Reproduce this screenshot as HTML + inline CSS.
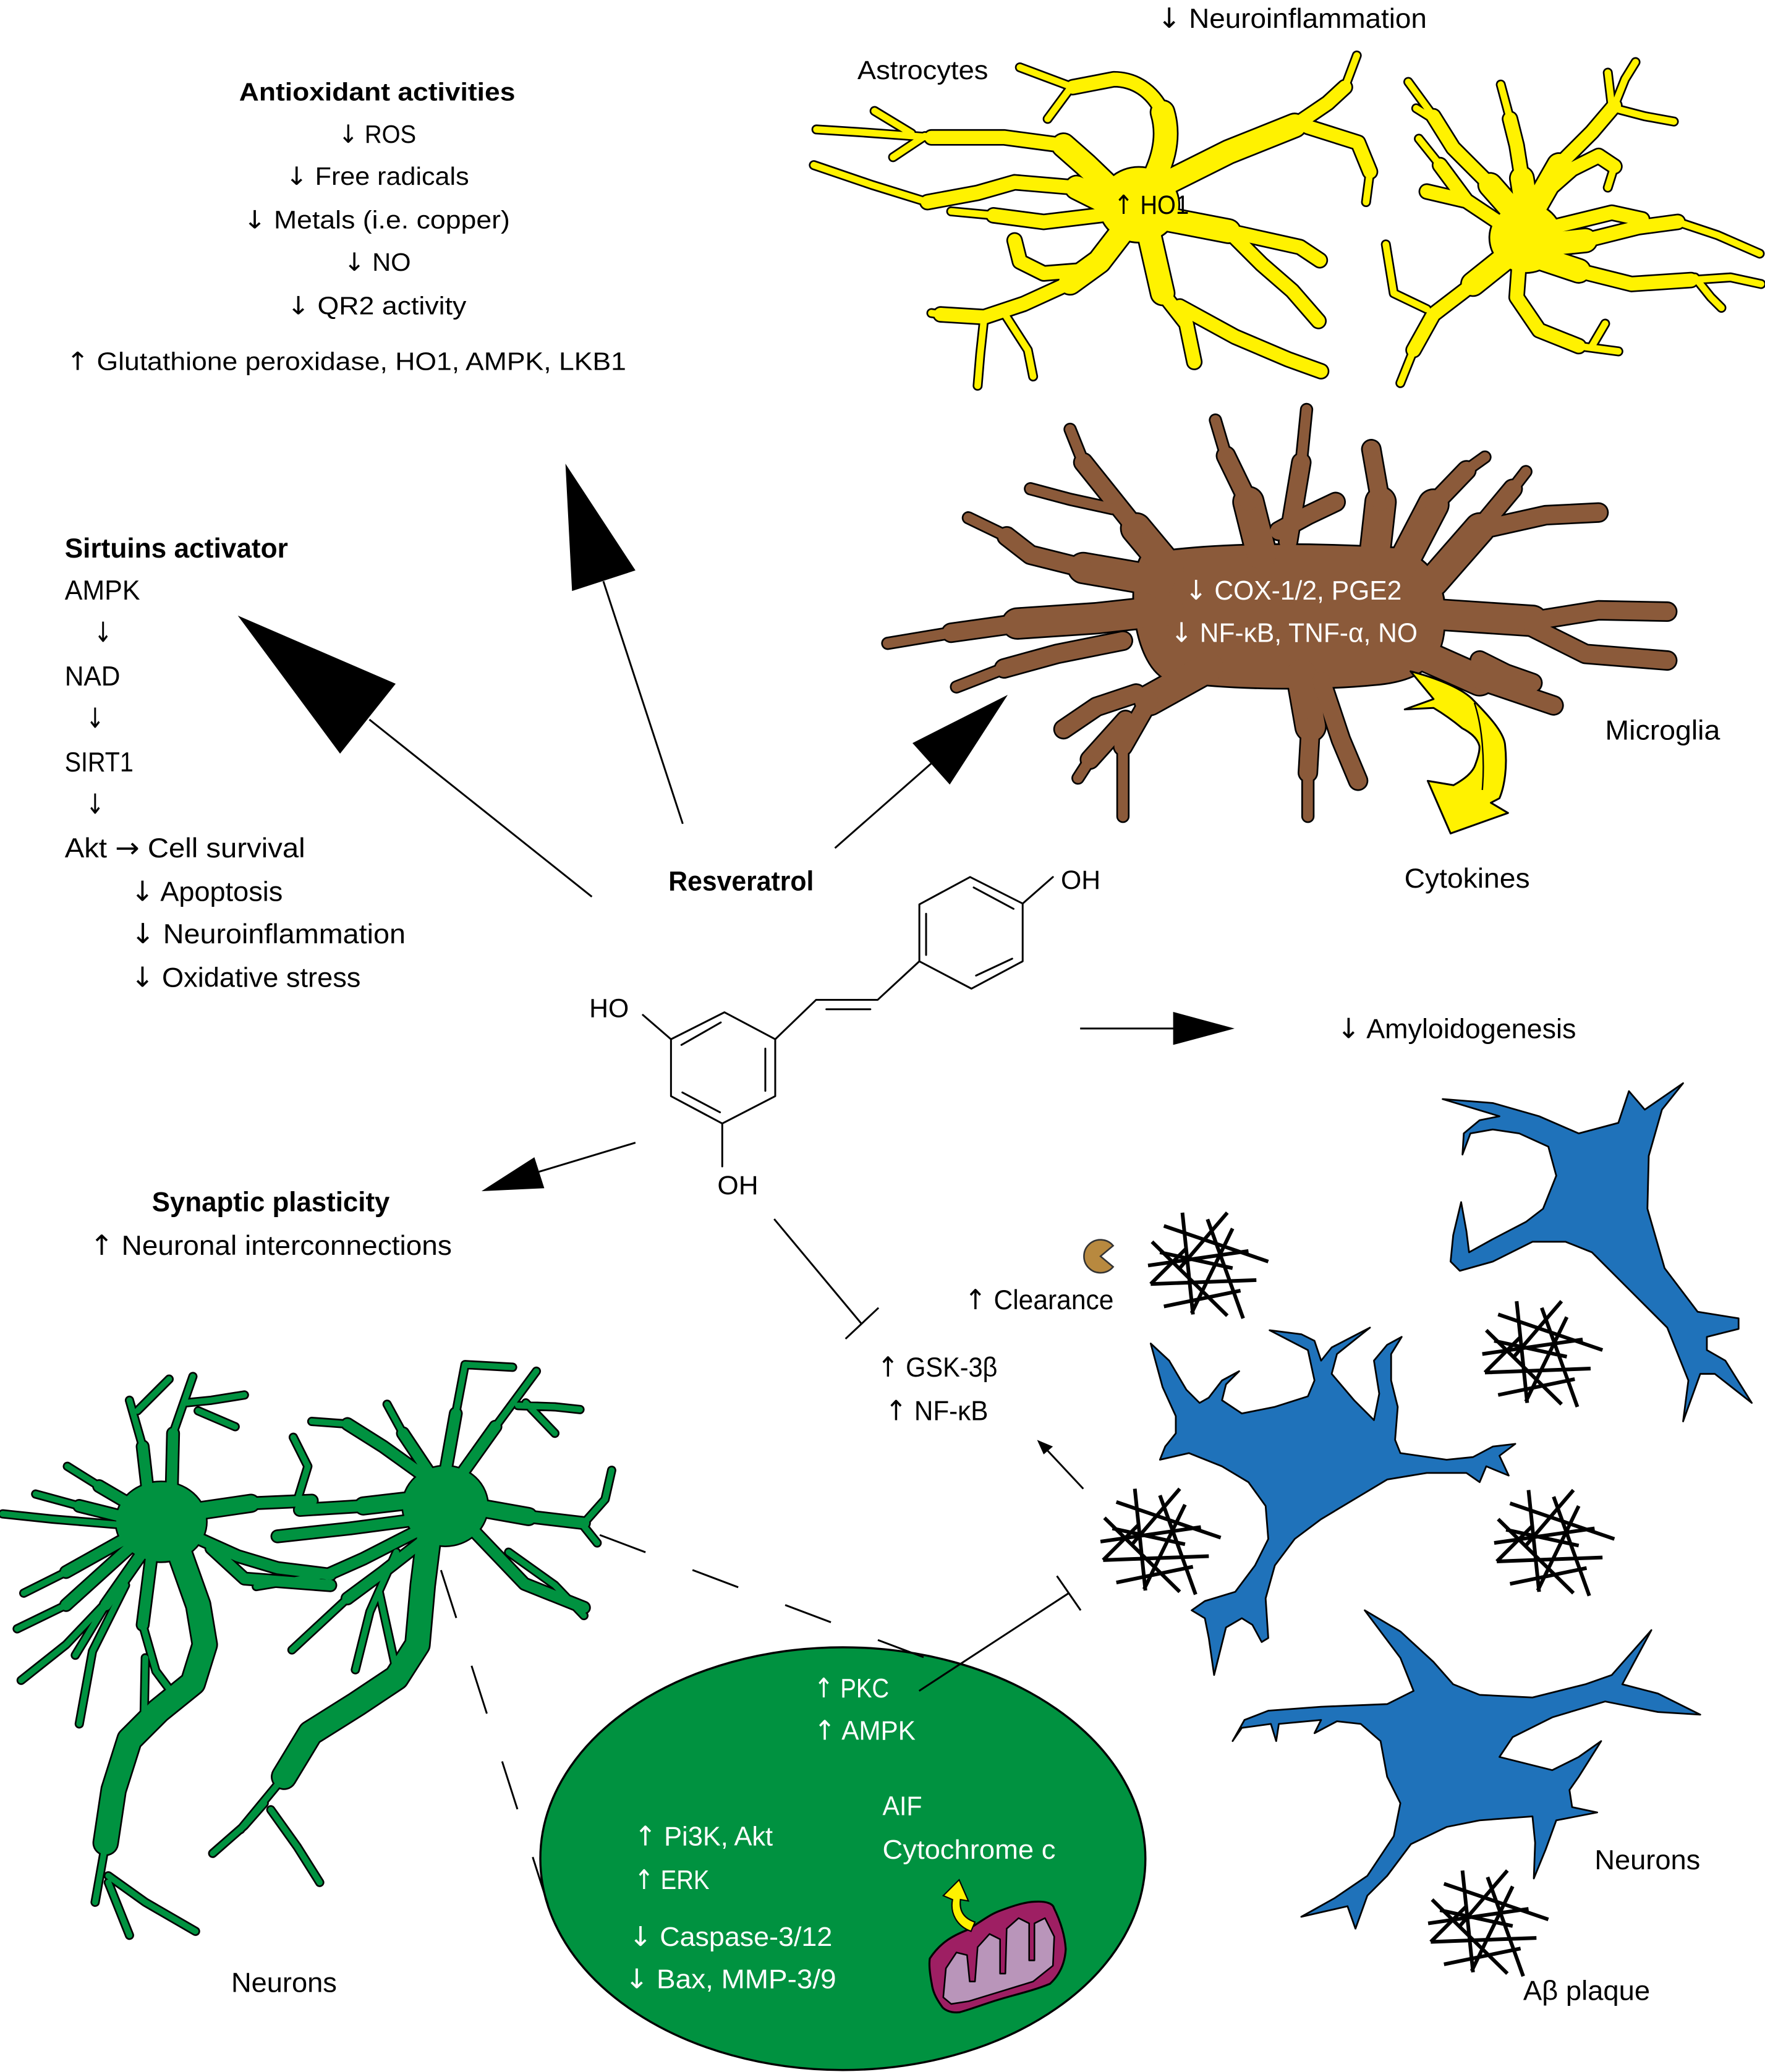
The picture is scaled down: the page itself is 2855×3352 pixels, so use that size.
<!DOCTYPE html>
<html><head><meta charset="utf-8"><style>
html,body{margin:0;padding:0;background:#fff;}
svg{display:block;}
text{font-family:"Liberation Sans","DejaVu Sans",sans-serif;}
.ar{font-family:"DejaVu Sans",sans-serif;}
</style></head><body>
<svg xmlns="http://www.w3.org/2000/svg" xmlns:xlink="http://www.w3.org/1999/xlink" width="2855" height="3352" viewBox="0 0 1336 1568.5" preserveAspectRatio="none">
<defs>
<!-- Astrocyte 1 -->
<g id="a1T"><path d="M868,145 C880,125 886,105 880,85 M880,140 L930,115 L980,95 M848,150 L822,125 L805,110 M845,157 L815,142 M852,172 L832,198 L810,214 M870,178 L880,222 M878,165 L930,175"/></g>
<g id="a1M"><path d="M880,85 C872,68 858,60 843,60 L812,66 M980,95 L1005,78 L1018,66 M990,96 L1028,108 L1037,130 M805,110 L760,104 L705,104 M815,142 L768,138 L740,146 L702,153 M840,162 L790,168 L752,163 M810,214 L775,230 L745,240 L712,238 M815,205 L790,207 L772,198 L768,182 M880,222 L898,245 L904,274 M893,232 L935,255 L975,272 L1000,281 M930,175 L984,187 L999,197 M935,180 L955,200 L978,220 L998,243"/></g>
<g id="a1S"><path d="M812,66 L772,51 M810,67 L793,90 M1018,66 L1027,42 M1037,130 L1034,153 M705,104 L650,100 L618,98 M700,103 L676,119 M690,101 L662,84 M702,153 L660,140 L616,125 M752,163 L720,160 M745,240 L742,268 L740,292 M760,237 L778,265 L782,285 M712,238 L705,237"/></g>
<!-- Astrocyte 2 -->
<g id="a2T"><path d="M1150,165 L1128,140 M1160,160 L1180,125 M1170,185 L1200,182 M1165,195 L1195,205 M1140,195 L1115,215 M1156,160 L1152,135"/></g>
<g id="a2M"><path d="M1128,140 L1100,112 L1085,88 M1152,135 L1148,110 L1143,90 M1180,125 L1205,100 L1222,80 M1165,150 L1190,128 L1210,118 L1222,126 M1140,172 L1110,152 L1080,145 M1175,172 L1220,161 L1243,166 M1200,182 L1240,172 L1270,168 M1195,205 L1235,215 L1280,212 M1150,198 L1148,225 L1165,250 L1195,262 M1115,215 L1085,238 L1070,265 M1110,152 L1090,125"/></g>
<g id="a2S"><path d="M1085,88 L1066,62 M1088,92 L1072,82 M1143,90 L1136,64 M1222,80 L1230,60 L1238,47 M1222,82 L1245,88 L1267,92 M1220,80 L1217,55 M1222,126 L1217,142 M1090,125 L1074,105 M1270,168 L1300,178 L1332,192 M1280,212 L1310,210 L1333,215 M1283,210 L1295,225 L1303,233 M1195,262 L1225,266 M1205,262 L1215,245 M1070,265 L1060,290 M1080,234 L1055,222 L1049,185"/></g>
<!-- Microglia -->
<g id="mgT"><path d="M885,462 L830,468 L770,472 M885,430 L860,400 M955,420 L945,380 M1040,425 L1045,380 M1060,430 L1085,382 M1085,440 L1120,400 M1085,465 L1160,470 M1075,495 L1120,515 M985,510 L992,550 M915,505 L870,530 M878,440 L820,430"/></g>
<g id="mgM"><path d="M770,472 L720,479 M850,485 L800,495 L760,506 M860,400 L840,375 L820,350 M820,430 L780,420 L762,406 M945,380 L928,345 M968,402 L990,390 L1011,380 M975,410 L985,350 M1045,380 L1038,340 M1085,382 L1110,356 M1120,400 L1145,370 M1125,400 L1170,390 L1210,388 M1160,470 L1210,462 L1262,463 M1160,475 L1200,495 L1262,500 M1120,515 L1176,534 M1120,500 L1140,510 L1160,517 M992,550 L990,585 M1000,515 L1015,560 L1028,591 M870,530 L850,565 M852,545 L825,575 M860,525 L830,535 L805,552"/></g>
<g id="mgS"><path d="M720,479 L672,487 M760,506 L724,520 M820,350 L810,325 M842,385 L810,378 L780,370 M762,406 L733,392 M928,345 L920,318 M985,350 L989,310 M1110,356 L1124,346 M1145,370 L1155,357 M990,585 L990,618 M850,565 L850,618 M825,575 L816,589"/></g>
<!-- Green neurons -->
<g id="nA"><path d="M134,1170 L150,1215 L155,1245 L146,1274 L120,1295 L98,1317 L86,1355 L80,1395 M325,1160 L320,1200 L316,1245 L300,1270 L270,1290 L235,1312 L215,1345"/></g>
<g id="nT"><path d="M142,1145 L190,1138 M355,1140 L400,1148 M318,1135 L275,1140"/></g>
<g id="nM"><path d="M112,1130 L108,1095 M130,1128 L131,1085 M190,1138 L236,1136 M140,1160 L180,1178 L210,1187 L250,1192 M160,1172 L185,1195 L250,1200 M104,1142 L75,1125 M100,1150 L60,1140 M100,1162 L50,1190 M102,1168 L50,1215 M108,1175 L80,1215 M115,1175 L108,1230 M337,1115 L345,1070 M350,1115 L375,1080 M400,1148 L442,1153 M355,1155 L397,1199 L442,1217 M325,1115 L305,1085 M322,1118 L290,1095 L263,1078 M275,1140 L227,1143 M318,1150 L265,1157 L210,1163 M318,1158 L275,1180 L248,1192 M322,1165 L290,1190 L263,1210"/></g>
<g id="nS"><path d="M108,1095 L98,1060 M104,1068 L128,1044 M131,1085 L146,1042 M140,1062 L160,1060 L185,1056 M150,1068 L178,1080 M225,1136 L233,1110 L222,1088 M75,1125 L51,1110 M60,1140 L27,1131 M100,1155 L40,1150 L2,1146 M50,1190 L18,1206 M50,1215 L13,1233 M80,1215 L57,1253 M95,1200 L70,1250 L60,1305 M88,1205 L50,1245 L16,1272 M108,1230 L118,1265 L136,1289 M110,1255 L109,1305 M80,1395 L72,1440 M82,1420 L110,1440 L148,1462 M82,1425 L98,1465 M345,1070 L352,1033 L388,1035 M375,1080 L406,1038 M392,1064 L420,1065 L439,1067 M398,1062 L420,1085 M442,1153 L458,1135 L463,1113 M440,1153 L452,1168 M385,1175 L420,1200 L442,1223 M305,1085 L293,1063 M263,1078 L236,1076 M248,1192 L194,1201 M263,1210 L221,1249 M287,1205 L299,1260 M300,1175 L280,1220 L269,1264 M215,1345 L182,1385 M200,1365 L185,1382 L161,1403 M205,1370 L225,1398 L242,1425"/></g>
<!-- plaque -->
<g id="pl"><path d="M12,11 L91,38 M3,23 L60,79 M0,41 L76,30 M2,55 L82,52 M12,72 L70,60 M26,1 L34,78 M45,6 L72,81 M60,1 L24,43 M64,13 L33,77 M9,31 L64,43 M2,55 L29,28" fill="none" stroke="#000" stroke-width="2.8"/></g>
</defs>

<!-- ===== Astrocytes ===== -->
<g fill="none" stroke-linecap="round" stroke-linejoin="round">
<ellipse cx="862" cy="155" rx="30" ry="28" fill="#000" stroke="#000" stroke-width="2.6"/>
<ellipse cx="1155" cy="180" rx="27" ry="26" fill="#000" stroke="#000" stroke-width="2.6"/>
<use xlink:href="#a1T" stroke="#000" stroke-width="19.5"/>
<use xlink:href="#a1M" stroke="#000" stroke-width="12.5"/>
<use xlink:href="#a1S" stroke="#000" stroke-width="7.5"/>
<use xlink:href="#a2T" stroke="#000" stroke-width="19.5"/>
<use xlink:href="#a2M" stroke="#000" stroke-width="12.5"/>
<use xlink:href="#a2S" stroke="#000" stroke-width="7.5"/>
<ellipse cx="862" cy="155" rx="30" ry="28" fill="#FFF200"/>
<ellipse cx="1155" cy="180" rx="27" ry="26" fill="#FFF200"/>
<use xlink:href="#a1T" stroke="#FFF200" stroke-width="17"/>
<use xlink:href="#a1M" stroke="#FFF200" stroke-width="10"/>
<use xlink:href="#a1S" stroke="#FFF200" stroke-width="5"/>
<use xlink:href="#a2T" stroke="#FFF200" stroke-width="17"/>
<use xlink:href="#a2M" stroke="#FFF200" stroke-width="10"/>
<use xlink:href="#a2S" stroke="#FFF200" stroke-width="5"/>
</g>

<!-- ===== Microglia ===== -->
<g fill="none" stroke-linecap="round" stroke-linejoin="round">
<path d="M865,420 C920,410 1000,412 1055,415 C1085,422 1095,445 1093,470 C1093,500 1078,515 1040,518 C1000,522 930,522 885,515 C858,505 852,440 865,420 Z" fill="#000" stroke="#000" stroke-width="2.6"/>
<use xlink:href="#mgT" stroke="#000" stroke-width="24.5"/>
<use xlink:href="#mgM" stroke="#000" stroke-width="15.5"/>
<use xlink:href="#mgS" stroke="#000" stroke-width="10"/>
<path d="M865,420 C920,410 1000,412 1055,415 C1085,422 1095,445 1093,470 C1093,500 1078,515 1040,518 C1000,522 930,522 885,515 C858,505 852,440 865,420 Z" fill="#8B5A3A"/>
<use xlink:href="#mgT" stroke="#8B5A3A" stroke-width="22"/>
<use xlink:href="#mgM" stroke="#8B5A3A" stroke-width="13"/>
<use xlink:href="#mgS" stroke="#8B5A3A" stroke-width="7.5"/>
</g>

<!-- Cytokine yellow arrow -->
<path d="M1067.7,508.2 C1090,514 1108,522 1115.5,530.3 C1130,545 1139,556 1139.3,564.6 C1141,580 1139,595 1135,604.3 L1128.5,607.7 L1141.5,615.4 L1098,630.9 L1080.7,591.1 L1100.2,594.4 C1108,590 1115,585 1117,578 C1120,570 1120,566 1119.8,564.6 C1118,558 1112,554 1106.8,551.3 C1098,544 1092,540 1085.1,535.9 L1063.3,537 L1085.1,529.2 Z" fill="#FFF200" stroke="#000" stroke-width="1.4" stroke-linejoin="round"/>
<path d="M1116,532 C1122,550 1124,575 1122,598" fill="none" stroke="#000" stroke-width="1.1"/>

<!-- ===== Green neurons ===== -->
<g fill="none" stroke-linecap="round" stroke-linejoin="round">
<ellipse cx="122" cy="1152" rx="34" ry="30" fill="#000" stroke="#000" stroke-width="2.4"/>
<ellipse cx="337" cy="1140" rx="32" ry="30" fill="#000" stroke="#000" stroke-width="2.4"/>
<use xlink:href="#nA" stroke="#000" stroke-width="20"/>
<use xlink:href="#nT" stroke="#000" stroke-width="14.5"/>
<use xlink:href="#nM" stroke="#000" stroke-width="10.5"/>
<use xlink:href="#nS" stroke="#000" stroke-width="7"/>
<ellipse cx="122" cy="1152" rx="34" ry="30" fill="#009240"/>
<ellipse cx="337" cy="1140" rx="32" ry="30" fill="#009240"/>
<use xlink:href="#nA" stroke="#009240" stroke-width="17.5"/>
<use xlink:href="#nT" stroke="#009240" stroke-width="12"/>
<use xlink:href="#nM" stroke="#009240" stroke-width="8"/>
<use xlink:href="#nS" stroke="#009240" stroke-width="4.5"/>
</g>

<!-- ===== Blue neurons ===== -->
<g fill="#1F72BA" stroke="#000" stroke-width="1.3" stroke-linejoin="round">
<path d="M1092,832 L1130,835 L1165,845 L1195,858 L1225,850 L1233,826 L1245,840 L1274,820 L1258,840 L1248,875 L1247,915 L1260,960 L1285,993 L1316,998 L1316,1006 L1292,1012 L1292,1022 L1306,1030 L1326,1062 L1298,1040 L1287,1040 L1274,1076 L1278,1045 L1262,1005 L1235,978 L1205,948 L1185,940 L1160,940 L1130,955 L1105,962 L1098,955 L1100,935 L1106,910 L1110,932 L1112,948 L1130,938 L1155,925 L1168,915 L1178,890 L1172,868 L1150,858 L1130,855 L1113,858 L1107,874 L1108,858 L1120,848 L1135,845 Z"/>
<path d="M871,1017 L885,1030 L898,1052 L908,1062 L915,1058 L925,1045 L938,1038 L928,1048 L925,1060 L940,1070 L965,1065 L990,1057 L995,1045 L990,1022 L961,1007 L985,1010 L995,1015 L1000,1030 L1008,1020 L1037,1005 L1012,1025 L1008,1040 L1025,1060 L1040,1075 L1044,1055 L1040,1030 L1050,1018 L1061,1012 L1053,1025 L1053,1045 L1058,1065 L1056,1090 L1060,1100 L1095,1105 L1115,1103 L1130,1095 L1147,1093 L1135,1102 L1142,1117 L1125,1110 L1120,1122 L1110,1115 L1080,1115 L1050,1120 L1025,1135 L1000,1150 L980,1165 L965,1185 L958,1210 L960,1240 L955,1243 L948,1230 L940,1225 L928,1232 L919,1268 L915,1240 L912,1225 L902,1219 L912,1212 L935,1205 L950,1185 L960,1165 L958,1140 L945,1122 L925,1110 L900,1100 L878,1105 L882,1095 L890,1085 L890,1072 L880,1050 Z"/>
<path d="M1033,1219 L1060,1235 L1085,1258 L1100,1275 L1120,1283 L1160,1285 L1200,1275 L1220,1268 L1250,1234 L1228,1275 L1255,1282 L1287,1298 L1255,1296 L1215,1288 L1175,1300 L1145,1315 L1135,1330 L1175,1340 L1195,1330 L1212,1318 L1195,1345 L1188,1355 L1190,1368 L1209,1372 L1178,1378 L1170,1400 L1161,1422 L1162,1395 L1160,1375 L1120,1378 L1095,1383 L1068,1396 L1050,1420 L1035,1435 L1026,1460 L1020,1443 L985,1451 L1010,1437 L1035,1420 L1055,1390 L1060,1365 L1050,1345 L1045,1318 L1030,1305 L1012,1303 L995,1312 L1000,1302 L968,1305 L966,1318 L962,1305 L940,1308 L933,1318 L942,1302 L960,1295 L1000,1292 L1050,1290 L1070,1280 L1060,1255 Z"/>
</g>

<!-- plaques -->
<use xlink:href="#pl" x="869" y="917"/>
<use xlink:href="#pl" x="1122" y="984"/>
<use xlink:href="#pl" x="833" y="1126"/>
<use xlink:href="#pl" x="1131" y="1127"/>
<use xlink:href="#pl" x="1081" y="1415"/>

<!-- pacman -->
<path d="M833,951 L842.6,943 A12.5,12.5 0 1 0 842.6,959 Z" fill="#B8893F" stroke="#333" stroke-width="1.2"/>

<!-- ===== Ellipse (neuron interior) ===== -->
<ellipse cx="638" cy="1407" rx="229" ry="160" fill="#009240" stroke="#000" stroke-width="1.6"/>
<path d="M703.8,1482.6 C712,1470 722,1465 732.1,1461 C742,1455 748,1450 756,1446.8 C766,1443 775,1440 782.9,1439.6 C792,1439 797,1441 797.8,1444.4 C803,1455 806,1465 806.7,1475.4 C806,1488 801,1496 794.8,1501.7 C782,1507 768,1510 756,1513.7 C745,1517 735,1521 726.2,1523.3 C719,1524 714,1521 712.7,1518.5 C708,1512 706,1507 705.3,1501.7 C704,1495 703,1488 703.8,1482.6 Z" fill="#9E1F63" stroke="#000" stroke-width="1.5"/>
<path d="M714,1512 L716,1490 L724,1478 L732,1480 L734,1500 L738,1500 L740,1474 L749,1464 L757,1468 L757,1494 L761,1494 L762,1460 L771,1452 L779,1456 L779,1484 L783,1484 L783,1456 L791,1452 L798,1466 L797,1488 L782,1500 L756,1508 L733,1515 L720,1517 Z" fill="#B995BA" stroke="#000" stroke-width="1.2" stroke-linejoin="round"/>
<path d="M735,1462 C724,1458 719,1448 721,1438 L714,1435 L726,1423 L733,1439 L727,1438 C726,1446 729,1452 738,1455 Z" fill="#FFF200" stroke="#000" stroke-width="1"/>

<!-- ===== Resveratrol structure ===== -->
<g fill="none" stroke="#000" stroke-width="1.4" stroke-linecap="round" stroke-linejoin="round">
<path d="M548.4,766.3 L586.8,786.7 L586.8,829.8 L546.7,850.5 L507.9,829.8 L507.9,786.7 Z"/>
<path d="M515.8,791 L545.6,774 M579.3,793.8 L579.3,825.8 M516.5,827 L545,842"/>
<path d="M507.9,786.7 L486.6,768.3 M546.7,850.5 L546.7,883"/>
<path d="M586.8,786.7 L617.7,756.9 L664.3,756.9 L695.9,727.7 M625.5,764 L658.8,764"/>
<path d="M695.9,727.7 L695.9,684.6 L734.3,663.9 L774.1,684 L774.1,727.7 L735.3,748.4 Z"/>
<path d="M701,691.7 L701,722.9 M737,671.8 L767.2,688 M738.8,738.5 L766.2,725.7"/>
<path d="M774.1,684 L797,663.9"/>
</g>

<!-- ===== Arrows & connectors ===== -->
<g stroke="#000" stroke-width="1.4" fill="none">
<line x1="516.8" y1="623.6" x2="456.7" y2="440"/>
<line x1="448" y1="678.8" x2="279.6" y2="544.7"/>
<line x1="632" y1="642" x2="704.8" y2="578"/>
<line x1="817.6" y1="778.6" x2="890" y2="778.6"/>
<line x1="481" y1="865" x2="408" y2="887"/>
<line x1="586" y1="922.8" x2="652.3" y2="1002.3"/>
<line x1="640" y1="1013.5" x2="665" y2="990"/>
<line x1="695.7" y1="1280" x2="809" y2="1206"/>
<line x1="800" y1="1193" x2="818" y2="1219"/>
<line x1="820" y1="1127" x2="791" y2="1096"/>
<line x1="454" y1="1162" x2="703" y2="1256" stroke-dasharray="37 38"/>
<line x1="333.8" y1="1188.6" x2="415" y2="1442.6" stroke-dasharray="38 38"/>
</g>
<g fill="#000">
<polygon points="428,351 433,447.4 481,431.8"/>
<polygon points="180,466 299.5,517.6 257.4,570.5"/>
<polygon points="762.8,526 690.7,562.5 718.9,593.9"/>
<polygon points="888,766 934.5,778.6 888,791"/>
<polygon points="364.5,901.7 404.5,876 412,899.5"/>
<polygon points="785,1090 797,1095 790,1101"/>
</g>

<!-- ===== Text ===== -->
<g fill="#000" font-size="21">
<text x="876" y="21" textLength="204" lengthAdjust="spacingAndGlyphs"><tspan class="ar">↓</tspan> Neuroinflammation</text>
<text x="649" y="60" textLength="99" lengthAdjust="spacingAndGlyphs" font-size="20">Astrocytes</text>
<text x="843" y="162" textLength="57" lengthAdjust="spacingAndGlyphs" font-size="20"><tspan class="ar">↑</tspan> HO1</text>
</g>
<g fill="#000" font-size="19">
<text x="181" y="76" textLength="209" lengthAdjust="spacingAndGlyphs" font-weight="bold">Antioxidant activities</text>
<text x="256" y="108" textLength="59" lengthAdjust="spacingAndGlyphs"><tspan class="ar">↓</tspan> ROS</text>
<text x="216" y="140" textLength="139" lengthAdjust="spacingAndGlyphs"><tspan class="ar">↓</tspan> Free radicals</text>
<text x="184" y="173" textLength="202" lengthAdjust="spacingAndGlyphs"><tspan class="ar">↓</tspan> Metals (i.e. copper)</text>
<text x="260" y="205" textLength="51" lengthAdjust="spacingAndGlyphs"><tspan class="ar">↓</tspan> NO</text>
<text x="217" y="238" textLength="136" lengthAdjust="spacingAndGlyphs"><tspan class="ar">↓</tspan> QR2 activity</text>
<text x="50" y="280" textLength="424" lengthAdjust="spacingAndGlyphs"><tspan class="ar">↑</tspan> Glutathione peroxidase, HO1, AMPK, LKB1</text>
</g>
<g fill="#000" font-size="21">
<text x="49" y="422" textLength="169" lengthAdjust="spacingAndGlyphs" font-weight="bold">Sirtuins activator</text>
<text x="49" y="454" textLength="57" lengthAdjust="spacingAndGlyphs">AMPK</text>
<text x="71" y="486" textLength="14" lengthAdjust="spacingAndGlyphs" class="ar">↓</text>
<text x="49" y="519" textLength="42" lengthAdjust="spacingAndGlyphs">NAD</text>
<text x="65" y="551" textLength="14" lengthAdjust="spacingAndGlyphs" class="ar">↓</text>
<text x="49" y="584" textLength="52" lengthAdjust="spacingAndGlyphs">SIRT1</text>
<text x="65" y="616" textLength="14" lengthAdjust="spacingAndGlyphs" class="ar">↓</text>
<text x="49" y="649" textLength="182" lengthAdjust="spacingAndGlyphs">Akt <tspan class="ar">→</tspan> Cell survival</text>
<text x="99" y="682" textLength="115" lengthAdjust="spacingAndGlyphs"><tspan class="ar">↓</tspan> Apoptosis</text>
<text x="99" y="714" textLength="208" lengthAdjust="spacingAndGlyphs"><tspan class="ar">↓</tspan> Neuroinflammation</text>
<text x="99" y="747" textLength="174" lengthAdjust="spacingAndGlyphs"><tspan class="ar">↓</tspan> Oxidative stress</text>
<text x="506" y="674" textLength="110" lengthAdjust="spacingAndGlyphs" font-weight="bold">Resveratrol</text>
<text x="803" y="673" textLength="30" lengthAdjust="spacingAndGlyphs" font-size="20">OH</text>
<text x="446" y="770" textLength="30" lengthAdjust="spacingAndGlyphs" font-size="20">HO</text>
<text x="543" y="904" textLength="31" lengthAdjust="spacingAndGlyphs" font-size="20">OH</text>
<text x="1012" y="786" textLength="181" lengthAdjust="spacingAndGlyphs"><tspan class="ar">↓</tspan> Amyloidogenesis</text>
<text x="115" y="917" textLength="180" lengthAdjust="spacingAndGlyphs" font-weight="bold">Synaptic plasticity</text>
<text x="68" y="950" textLength="274" lengthAdjust="spacingAndGlyphs"><tspan class="ar">↑</tspan> Neuronal interconnections</text>
<text x="730" y="991" textLength="113" lengthAdjust="spacingAndGlyphs"><tspan class="ar">↑</tspan> Clearance</text>
<text x="664" y="1042" textLength="91" lengthAdjust="spacingAndGlyphs"><tspan class="ar">↑</tspan> GSK-3β</text>
<text x="670" y="1075" textLength="78" lengthAdjust="spacingAndGlyphs"><tspan class="ar">↑</tspan> NF-κB</text>
<text x="1215" y="560" textLength="87" lengthAdjust="spacingAndGlyphs">Microglia</text>
<text x="1063" y="672" textLength="95" lengthAdjust="spacingAndGlyphs">Cytokines</text>
<text x="175" y="1508" textLength="80" lengthAdjust="spacingAndGlyphs">Neurons</text>
<text x="1207" y="1415" textLength="80" lengthAdjust="spacingAndGlyphs">Neurons</text>
<text x="1153" y="1514" textLength="96" lengthAdjust="spacingAndGlyphs">Aβ plaque</text>
</g>
<g fill="#fff" font-size="20.5">
<text x="897" y="454" textLength="164" lengthAdjust="spacingAndGlyphs"><tspan class="ar">↓</tspan> COX-1/2, PGE2</text>
<text x="886" y="486" textLength="187" lengthAdjust="spacingAndGlyphs"><tspan class="ar">↓</tspan> NF-κB, TNF-α, NO</text>
<text x="616" y="1285" textLength="57" lengthAdjust="spacingAndGlyphs"><tspan class="ar">↑</tspan> PKC</text>
<text x="616" y="1317" textLength="77" lengthAdjust="spacingAndGlyphs"><tspan class="ar">↑</tspan> AMPK</text>
<text x="668" y="1374" textLength="30" lengthAdjust="spacingAndGlyphs">AIF</text>
<text x="668" y="1407" textLength="131" lengthAdjust="spacingAndGlyphs">Cytochrome c</text>
<text x="480" y="1397" textLength="105" lengthAdjust="spacingAndGlyphs"><tspan class="ar">↑</tspan> Pi3K, Akt</text>
<text x="480" y="1430" textLength="57" lengthAdjust="spacingAndGlyphs"><tspan class="ar">↑</tspan> ERK</text>
<text x="476" y="1473" textLength="154" lengthAdjust="spacingAndGlyphs"><tspan class="ar">↓</tspan> Caspase-3/12</text>
<text x="473" y="1505" textLength="160" lengthAdjust="spacingAndGlyphs"><tspan class="ar">↓</tspan> Bax, MMP-3/9</text>
</g>
</svg>
</body></html>
